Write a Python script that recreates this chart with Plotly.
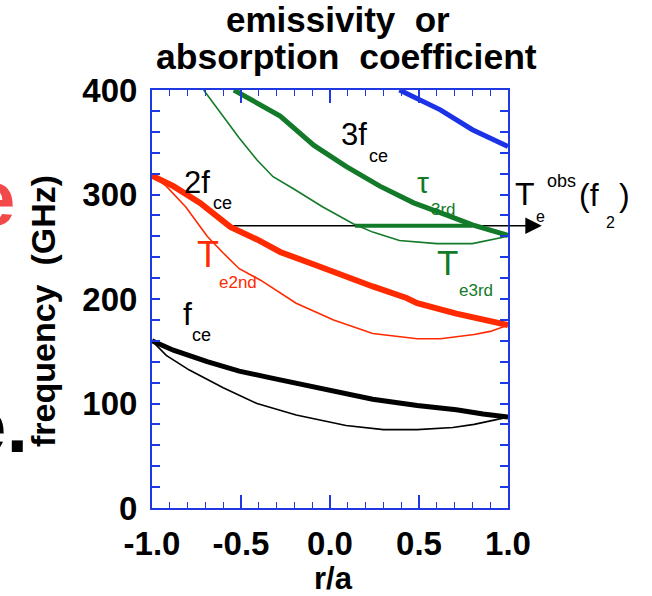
import plotly.graph_objects as go

# ---- data (r/a, frequency in GHz) ----
r_fce_thick = [-1.0, -0.88, -0.69, -0.51, -0.32, -0.13, 0.06, 0.24, 0.49, 0.71, 0.86, 1.0]
f_fce_thick = [160, 151, 140, 131, 124, 117, 110, 104, 98, 94, 90, 87]

r_fce_thin = [-1.0, -0.92, -0.79, -0.60, -0.41, -0.19, 0.09, 0.30, 0.49, 0.69, 0.81, 0.90, 1.0]
f_fce_thin = [160, 146, 132, 115, 100, 89, 79, 75, 75, 77, 80, 83, 87]

r_2fce = [-1.0, -0.88, -0.73, -0.56, -0.41, -0.28, -0.09, 0.09, 0.24, 0.43, 0.49, 0.71, 0.86, 1.0]
f_2fce = [318, 308, 292, 269, 257, 245, 233, 221, 212, 201, 196, 186, 180, 175]

r_te2 = [-1.0, -0.92, -0.81, -0.69, -0.60, -0.51, -0.39, -0.24, -0.19, 0.02, 0.24, 0.49, 0.62, 0.81, 0.90, 1.0]
f_te2 = [318, 308, 288, 260, 244, 229, 218, 201, 196, 180, 167, 162, 162, 166, 169, 175]

r_3fce = [-0.54, -0.28, -0.09, 0.09, 0.28, 0.47, 0.66, 0.80, 1.0]
f_3fce = [400, 375, 347, 327, 308, 292, 280, 271, 261]

r_te3 = [-0.71, -0.60, -0.51, -0.41, -0.32, -0.21, -0.04, 0.13, 0.24, 0.39, 0.60, 0.80, 1.0]
f_te3 = [400, 375, 354, 333, 317, 306, 288, 272, 264, 256, 253, 253, 260]

r_tau3 = [0.14, 0.80]
f_tau3 = [270, 270]

r_4fce = [0.39, 0.62, 0.80, 1.0]
f_4fce = [400, 381, 362, 346]

# observed frequency line: start on 2f_ce, arrow leaves the plot on the right
r_obs = [-0.56, 1.0]
f_obs = [270, 270]
r_obs_tip = 1.19

x_ticks = [-1.0, -0.5, 0.0, 0.5, 1.0]
x_ticklabels = ["-1.0", "-0.5", "0.0", "0.5", "1.0"]
y_ticks = [0, 100, 200, 300, 400]
y_ticklabels = ["0", "100", "200", "300", "400"]

RED = "#ff2a00"
GREEN = "#127a28"
BLUE = "#1c32e6"
FRAME = "#2038e0"
BLACK = "#000000"

W, H = 652, 596
L, R, T, B = 152, 144, 90, 88
PW, PH = W - L - R, H - T - B

fig = go.Figure()


def line(x, y, color, width):
    fig.add_trace(go.Scatter(x=x, y=y, mode="lines",
                             line=dict(color=color, width=width),
                             hoverinfo="skip", showlegend=False))


line(r_obs, f_obs, BLACK, 1.5)
line(r_fce_thin, f_fce_thin, BLACK, 1.6)
line(r_fce_thick, f_fce_thick, BLACK, 5)
line(r_te2, f_te2, RED, 1.6)
line(r_2fce, f_2fce, RED, 6)
line(r_te3, f_te3, GREEN, 1.6)
line(r_tau3, f_tau3, GREEN, 4)
line(r_3fce, f_3fce, GREEN, 5)
line(r_4fce, f_4fce, BLUE, 5)

FONT = "Liberation Sans, Arial, Helvetica, sans-serif"


def px(xp):
    return (xp - L) / PW


def py(yp):
    return (T + PH - yp) / PH


def label(text, x_left, baseline, size, color=BLACK, bold=False, anchor="left"):
    t = f"<b>{text}</b>" if bold else text
    fig.add_annotation(text=t, xref="paper", yref="paper",
                       x=px(x_left), y=py(baseline - 0.3465 * size),
                       xanchor=anchor, yanchor="middle", showarrow=False,
                       borderpad=0, borderwidth=0,
                       font=dict(family=FONT, size=size, color=color))


# title
label("emissivity  or", 338, 31.8, 35, bold=True, anchor="center")
label("absorption  coefficient", 346, 69, 35.5, bold=True, anchor="center")

# axis titles
label("r/a", 333, 589, 31, bold=True, anchor="center")
fig.add_annotation(text="<b>frequency  (GHz)</b>", xref="paper", yref="paper",
                   x=px(43), y=py(311), xanchor="center", yanchor="middle",
                   textangle=-90, showarrow=False, borderpad=0, borderwidth=0,
                   font=dict(family=FONT, size=34, color=BLACK))

# curve labels
label("3f", 341, 145, 31)
label("ce", 369, 162, 18)
label("2f", 184, 193, 31)
label("ce", 213, 209, 18)
label("f", 183, 325, 32)
label("ce", 192, 341, 18)
label("T", 197, 267, 36, color=RED)
label("e2nd", 219, 288, 17, color=RED)
label("\u03c4", 417, 193, 30, color=GREEN)
label("3rd", 431, 215, 17, color=GREEN)
label("T", 437, 275, 35, color=GREEN)
label("e3rd", 459, 296, 17, color=GREEN)

# observed temperature label
label("T", 515, 205, 32)
label("e", 536, 222, 16)
label("obs", 547, 187, 18)
label("(f", 579, 206, 32)
label("2", 606, 228, 16)
label(")", 619, 206, 32)

# large letters running off the left edge
label("e", 15, 225, 78, color="#f24a4a", bold=True, anchor="right")
label("e.", 28, 452, 78, bold=True, anchor="right")

# arrow head beyond the right axis
fig.add_annotation(x=r_obs_tip, y=f_obs[1], ax=r_obs[1], ay=f_obs[1],
                   xref="x", yref="y", axref="x", ayref="y", text="",
                   showarrow=True, arrowhead=2, arrowsize=2.2, arrowwidth=1.5,
                   arrowcolor=BLACK, standoff=0, startstandoff=0)

fig.update_xaxes(range=[-1, 1], tickvals=x_ticks, ticktext=x_ticklabels,
                 ticks="inside", ticklen=13, tickwidth=1.5, tickcolor=FRAME,
                 minor=dict(dtick=0.1, ticks="inside", ticklen=6, tickwidth=1.2,
                            tickcolor=FRAME, showgrid=False),
                 showline=True, linecolor=FRAME, linewidth=2, mirror="allticks",
                 showgrid=False, zeroline=False, ticklabelstandoff=5,
                 tickfont=dict(family=FONT, size=33, color=BLACK, weight="bold"))
fig.update_yaxes(range=[0, 400], tickvals=y_ticks, ticktext=y_ticklabels,
                 ticks="inside", ticklen=8, tickwidth=1.5, tickcolor=FRAME,
                 minor=dict(dtick=20, ticks="inside", ticklen=8, tickwidth=1.5,
                            tickcolor=FRAME, showgrid=False),
                 showline=True, linecolor=FRAME, linewidth=2, mirror="allticks",
                 showgrid=False, zeroline=False, ticklabelstandoff=6,
                 tickfont=dict(family=FONT, size=33, color=BLACK, weight="bold"))

fig.update_layout(width=W, height=H, margin=dict(l=L, r=R, t=T, b=B),
                  plot_bgcolor="white", paper_bgcolor="white")

fig.write_html("out.html")
